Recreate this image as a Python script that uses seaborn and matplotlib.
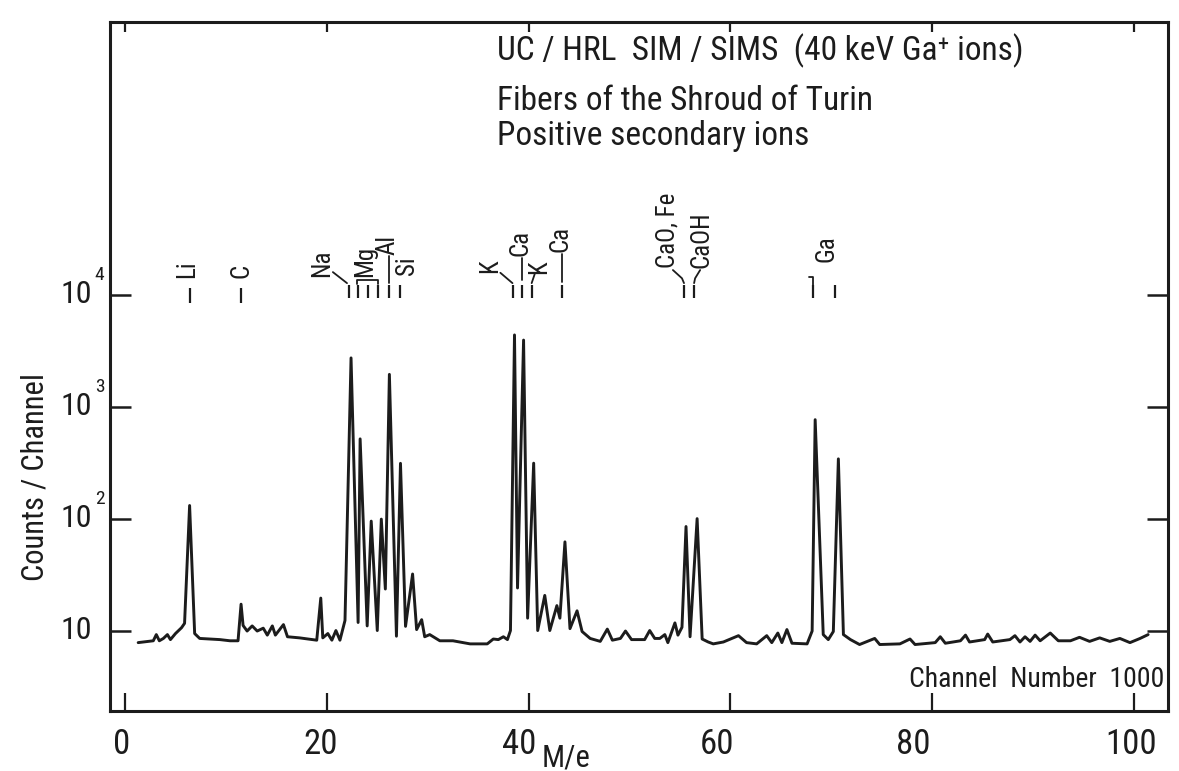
import matplotlib
matplotlib.use("Agg")
import matplotlib.pyplot as plt
import matplotlib.transforms as mtransforms
from matplotlib import font_manager
import pandas as pd
import seaborn as sns

# Positive secondary-ion spectrum: M/e position and counts per channel along the trace
mass_e = [1.3, 2.8, 3.1, 3.4, 3.8, 4.2, 4.5, 5.0, 5.6, 5.9, 6.4, 6.9, 7.4, 9.4, 10.4,
          11.2, 11.5, 11.7, 12.1, 12.6, 13.1, 13.7, 14.1, 14.6, 14.9, 15.7, 16.1, 17.3,
          19.0, 19.4, 19.6, 20.1, 20.5, 20.9, 21.3, 21.8, 22.4, 23.1, 23.3, 24.0, 24.4,
          25.0, 25.4, 25.8, 26.2, 26.9, 27.3, 27.8, 28.5, 28.9, 29.4, 29.7, 30.2, 30.9,
          31.2, 32.5, 34.2, 35.9, 36.5, 37.0, 37.5, 37.9, 38.2, 38.6, 38.9, 39.5, 39.9,
          40.5, 40.9, 41.6, 42.1, 42.8, 43.1, 43.6, 44.1, 44.8, 45.3, 46.1, 47.1, 47.8,
          48.3, 49.1, 49.6, 50.2, 51.5, 52.0, 52.5, 53.0, 53.5, 53.8, 54.5, 54.8, 55.2,
          55.6, 56.0, 56.7, 57.2, 57.8, 58.3, 59.3, 60.8, 61.6, 62.6, 63.6, 64.1, 64.7,
          65.1, 65.6, 66.1, 67.6, 68.1, 68.4, 69.2, 69.7, 70.2, 70.7, 71.2, 71.9, 72.8,
          74.3, 74.8, 76.8, 77.8, 78.3, 80.3, 80.8, 81.3, 82.8, 83.3, 83.7, 85.2, 85.5,
          86.0, 87.7, 88.2, 88.7, 89.2, 89.7, 90.2, 90.7, 91.7, 92.5, 93.7, 94.6, 95.6,
          96.6, 97.6, 98.6, 99.6, 100.6, 101.4]
counts = [7.8, 8.1, 9.2, 8.1, 8.5, 9.2, 8.3, 9.4, 10.6, 11.6, 131, 9.4, 8.5, 8.3, 8.1,
          8.1, 17.2, 11.1, 9.9, 11.0, 9.9, 10.5, 9.1, 11.0, 9.1, 11.3, 8.8, 8.6,
          8.2, 19.5, 8.6, 9.4, 8.2, 10.0, 8.2, 12.3, 2730, 11.8, 516, 11.0, 95,
          10.0, 99, 23.5, 1946, 8.9, 312, 10.9, 32, 10.2, 12.5, 8.8, 9.2, 8.4,
          8.1, 8.1, 7.6, 7.6, 8.4, 8.3, 8.8, 8.3, 10.0, 4380, 24, 3940, 12.9,
          313, 10.0, 20.6, 10.0, 16.7, 12.9, 62, 10.4, 15, 9.8, 8.5, 8.0, 10.3,
          8.2, 8.5, 9.9, 8.3, 8.3, 10.0, 8.5, 8.5, 9.2, 7.8, 11.7, 9.1, 10.7,
          85, 8.8, 100, 8.4, 7.9, 7.6, 7.9, 9.0, 7.8, 7.6, 9.0, 7.8, 9.5,
          7.8, 10.2, 7.7, 7.6, 9.9, 766, 9.2, 8.3, 9.8, 342, 9.2, 8.3, 7.5,
          8.5, 7.5, 7.6, 8.4, 7.5, 7.8, 8.8, 7.7, 8.1, 9.1, 7.9, 8.3, 9.3,
          7.9, 8.3, 9.0, 7.9, 8.8, 8.0, 9.1, 8.1, 9.5, 8.1, 8.1, 8.7, 8.0,
          8.6, 8.0, 8.5, 7.8, 8.5, 9.2]

# Axis ticks
x_ticks = [0, 20, 40, 60, 80, 100]
y_ticks = [10, 100, 1000, 10000]
y_exponents = ["", "2", "3", "4"]

# Peak identification stubs (M/e of each marked line)
marker_mass_low = [6.4, 11.5]
marker_mass = [22.2, 23.1, 24.1, 25.1, 26.2, 27.3, 38.5, 39.3, 40.3, 43.3,
               55.4, 56.4, 68.2, 70.4]

title_lines = ["UC / HRL  SIM / SIMS  (40 keV Ga\u207a ions)",
               "Fibers of the Shroud of Turin",
               "Positive secondary ions"]

sns.set_theme(style="ticks")


def narrow_face():
    """Prefer a narrow sans face for the lettering; fall back to Roboto."""
    entries = font_manager.fontManager.ttflist
    names = {f.name for f in entries}
    for name in ["Liberation Sans Narrow", "Noto Sans Condensed", "Roboto Condensed",
                 "Open Sans Condensed", "DejaVu Sans Condensed", "Arial Narrow"]:
        if name in names:
            return name, "normal", True
    for f in entries:
        if (str(f.stretch) in ("condensed", "semi-condensed", "extra-condensed")
                and "Mono" not in f.name and "Serif" not in f.name
                and "CJK" not in f.name):
            return f.name, str(f.stretch), True
    for name in ["Roboto", "Liberation Sans", "Noto Sans"]:
        if name in names:
            return name, "normal", False
    return "DejaVu Sans", "normal", False


face, stretch, is_narrow = narrow_face()
plt.rcParams["font.family"] = [face, "DejaVu Sans"]
plt.rcParams["font.stretch"] = stretch
k = 1.0 if is_narrow else 0.86  # size factor so lettering keeps its width

ink = "#1c1c1c"
fig = plt.figure(figsize=(11.79, 7.71), dpi=100)
fig.patch.set_facecolor("white")
ax = fig.add_axes([110 / 1179, 1 - 711 / 771, 1058 / 1179, 689 / 771])
ax.set_facecolor("white")

spec = pd.DataFrame({"M/e": mass_e, "counts": counts})
sns.lineplot(data=spec, x="M/e", y="counts", ax=ax, color=ink, lw=2.1,
             estimator=None, sort=False)

ax.set_yscale("log")
ax.set_xlim(-1.49, 103.37)
ax.set_ylim(1.91, 2.74e6)

for sp in ax.spines.values():
    sp.set_visible(True)
    sp.set_linewidth(2.2)
    sp.set_color(ink)

ax.set_xticks(x_ticks)
ax.set_xticklabels([str(t) for t in x_ticks], fontsize=25 * k, color=ink)
ax.tick_params(axis="x", direction="in", length=13, width=1.6, color=ink, pad=12)
# hand-lettered numerals sit a little left of their tick marks
for lab, dx in zip(ax.get_xticklabels(), [-3, -6, -9, -13, -19, -3]):
    lab.set_transform(lab.get_transform()
                      + mtransforms.ScaledTranslation(dx / 100, 0, fig.dpi_scale_trans))
top = ax.secondary_xaxis("top")
top.set_xticks(x_ticks)
top.set_xticklabels([])
top.tick_params(direction="in", length=7, width=1.6, color=ink)
top.spines["top"].set_visible(False)

ax.set_yticks(y_ticks)
ax.yaxis.set_minor_locator(matplotlib.ticker.NullLocator())
ax.set_yticklabels([])
ax.tick_params(axis="y", which="major", direction="in", length=15, width=1.8,
               color=ink, left=True, right=True, labelleft=False)

# Power-of-ten labels drawn as base plus raised exponent
ylab_tr = mtransforms.blended_transform_factory(ax.transAxes, ax.transData)
for val, ex in zip(y_ticks, y_exponents):
    ax.annotate("10", xy=(0, val), xycoords=ylab_tr, xytext=(-13, 0),
                textcoords="offset points", ha="right", va="center",
                fontsize=23 * k, color=ink, annotation_clip=False)
    if ex:
        ax.annotate(ex, xy=(0, val), xycoords=ylab_tr, xytext=(-11, 14),
                    textcoords="offset points", ha="left", va="center",
                    fontsize=14 * k, color=ink, annotation_clip=False)

ax.set_xlabel("")
ax.set_ylabel("")
fig.text(35 / 1179, 1 - 477 / 771, "Counts / Channel", rotation=90,
         ha="center", va="center", fontsize=22 * k, color=ink)
fig.text(566 / 1179, 1 - 758 / 771, "M/e", ha="center", va="center",
         fontsize=22 * k, color=ink)
ax.text(0.997, 0.045, "Channel  Number  1000", transform=ax.transAxes,
        ha="right", va="center", fontsize=20 * k, color=ink)

for line, yb in zip(title_lines, [0.945, 0.872, 0.8215]):
    ax.text(0.3658, yb, line, transform=ax.transAxes, ha="left",
            va="baseline", fontsize=24 * k, color=ink)

# Peak identifications
bt = mtransforms.blended_transform_factory(ax.transData, ax.transAxes)
ax.vlines(marker_mass_low, 0.592, 0.614, transform=bt, color=ink, lw=1.6)
ax.vlines(marker_mass, 0.599, 0.618, transform=bt, color=ink, lw=1.6)


def tag(x, y, s):
    ax.text(x, y, s, transform=bt, rotation=90, ha="center", va="bottom",
            fontsize=18 * k, color=ink)


def link(xs, ys):
    ax.plot(xs, ys, transform=bt, color=ink, lw=1.3, clip_on=False)


tag(6.2, 0.628, "Li")
tag(11.5, 0.628, "C")
tag(19.5, 0.630, "Na")
link([20.6, 22.0], [0.637, 0.621])
tag(23.8, 0.630, "Mg")
link([23.0, 23.0, 25.1, 25.1], [0.620, 0.626, 0.626, 0.620])
tag(26.0, 0.662, "Al")
link([26.2, 26.2], [0.621, 0.660])
tag(27.9, 0.633, "Si")
tag(36.2, 0.636, "K")
link([37.2, 38.4], [0.636, 0.621])
tag(39.2, 0.660, "Ca")
link([39.3, 39.3], [0.625, 0.657])
tag(41.0, 0.634, "K")
link([40.6, 40.3], [0.634, 0.621])
tag(43.2, 0.666, "Ca")
link([43.3, 43.3], [0.622, 0.664])
tag(53.8, 0.643, "CaO, Fe")
link([54.3, 55.2, 55.4], [0.640, 0.628, 0.621])
tag(57.1, 0.643, "CaOH")
link([57.0, 56.5, 56.4], [0.640, 0.628, 0.621])
tag(69.5, 0.652, "Ga")
link([67.8, 68.2, 68.2], [0.630, 0.630, 0.618])

fig.savefig("out.png", dpi=100, facecolor="white")
